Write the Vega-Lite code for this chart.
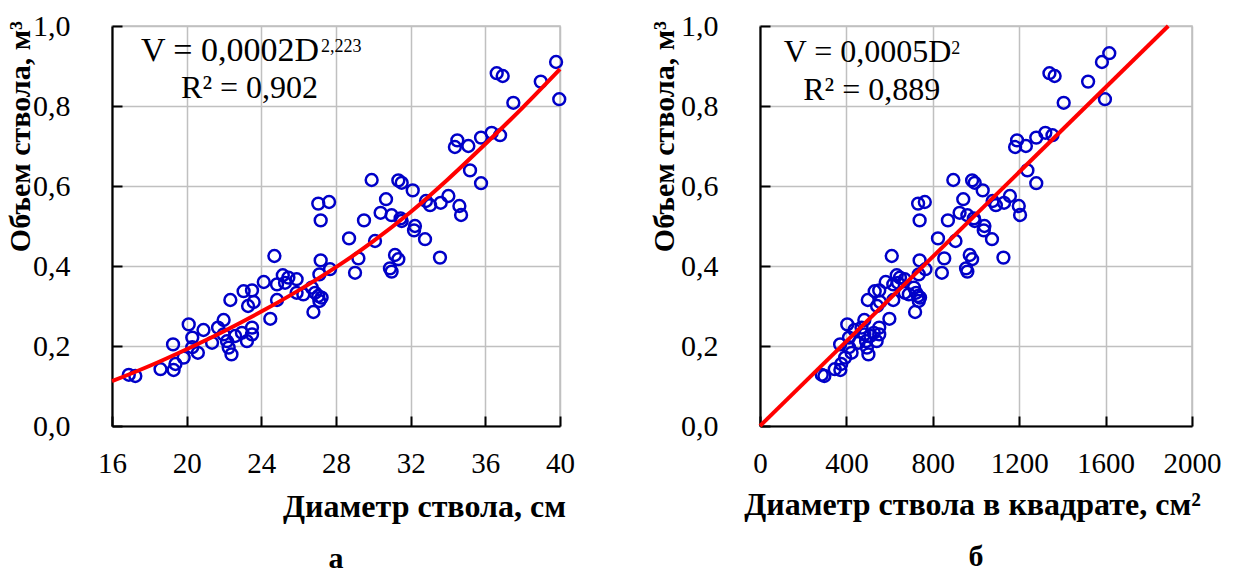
{
  "$schema": "https://vega.github.io/schema/vega-lite/v6.json",
  "background": "white",
  "padding": {"left": 4, "top": 10, "right": 10, "bottom": 0},
  "spacing": 200,
  "bounds": "flush",
  "datasets": {
    "trees": [
      {"D": 16.9, "D2": 286, "V": 0.128}, {"D": 17.25, "D2": 298, "V": 0.125},
      {"D": 18.6, "D2": 346, "V": 0.142}, {"D": 19.3, "D2": 372, "V": 0.14},
      {"D": 19.4, "D2": 376, "V": 0.155}, {"D": 19.27, "D2": 371, "V": 0.204},
      {"D": 19.84, "D2": 394, "V": 0.171}, {"D": 20.11, "D2": 404, "V": 0.254},
      {"D": 20.3, "D2": 412, "V": 0.221}, {"D": 20.3, "D2": 412, "V": 0.197},
      {"D": 20.6, "D2": 424, "V": 0.183}, {"D": 20.9, "D2": 437, "V": 0.24},
      {"D": 21.36, "D2": 456, "V": 0.208}, {"D": 21.68, "D2": 470, "V": 0.246},
      {"D": 21.98, "D2": 483, "V": 0.265}, {"D": 21.98, "D2": 483, "V": 0.229},
      {"D": 22.16, "D2": 491, "V": 0.212}, {"D": 22.25, "D2": 495, "V": 0.196},
      {"D": 22.4, "D2": 502, "V": 0.179}, {"D": 22.6, "D2": 511, "V": 0.225},
      {"D": 22.96, "D2": 527, "V": 0.233}, {"D": 23.23, "D2": 540, "V": 0.212},
      {"D": 23.5, "D2": 552, "V": 0.229}, {"D": 23.5, "D2": 552, "V": 0.246},
      {"D": 22.34, "D2": 499, "V": 0.315}, {"D": 23.05, "D2": 531, "V": 0.337},
      {"D": 23.5, "D2": 552, "V": 0.339}, {"D": 23.59, "D2": 556, "V": 0.31},
      {"D": 23.29, "D2": 542, "V": 0.3}, {"D": 24.13, "D2": 582, "V": 0.36},
      {"D": 24.48, "D2": 599, "V": 0.268}, {"D": 24.7, "D2": 610, "V": 0.425},
      {"D": 24.84, "D2": 617, "V": 0.354}, {"D": 24.84, "D2": 617, "V": 0.315},
      {"D": 25.15, "D2": 633, "V": 0.377}, {"D": 25.45, "D2": 648, "V": 0.371},
      {"D": 25.89, "D2": 670, "V": 0.367}, {"D": 25.27, "D2": 639, "V": 0.358},
      {"D": 25.89, "D2": 670, "V": 0.333}, {"D": 26.25, "D2": 689, "V": 0.329},
      {"D": 26.7, "D2": 713, "V": 0.346}, {"D": 26.88, "D2": 723, "V": 0.333},
      {"D": 27.05, "D2": 732, "V": 0.325}, {"D": 27.23, "D2": 741, "V": 0.321},
      {"D": 27.11, "D2": 735, "V": 0.3125}, {"D": 26.79, "D2": 718, "V": 0.285},
      {"D": 27.05, "D2": 732, "V": 0.556}, {"D": 27.63, "D2": 763, "V": 0.56},
      {"D": 27.18, "D2": 739, "V": 0.514}, {"D": 29.91, "D2": 895, "V": 0.615},
      {"D": 31.34, "D2": 982, "V": 0.614}, {"D": 31.52, "D2": 994, "V": 0.608},
      {"D": 32.11, "D2": 1031, "V": 0.589}, {"D": 30.68, "D2": 941, "V": 0.567},
      {"D": 30.39, "D2": 924, "V": 0.533}, {"D": 30.98, "D2": 960, "V": 0.527},
      {"D": 31.46, "D2": 990, "V": 0.519}, {"D": 31.52, "D2": 994, "V": 0.5125},
      {"D": 32.23, "D2": 1039, "V": 0.5}, {"D": 32.18, "D2": 1036, "V": 0.489},
      {"D": 32.77, "D2": 1074, "V": 0.467}, {"D": 29.5, "D2": 870, "V": 0.514},
      {"D": 28.7, "D2": 824, "V": 0.469}, {"D": 30.09, "D2": 905, "V": 0.4625},
      {"D": 29.2, "D2": 853, "V": 0.419}, {"D": 29.02, "D2": 842, "V": 0.383},
      {"D": 31.16, "D2": 971, "V": 0.4275}, {"D": 31.34, "D2": 982, "V": 0.417},
      {"D": 30.89, "D2": 954, "V": 0.394}, {"D": 30.98, "D2": 960, "V": 0.386},
      {"D": 27.18, "D2": 739, "V": 0.414}, {"D": 27.68, "D2": 766, "V": 0.392},
      {"D": 27.11, "D2": 735, "V": 0.379}, {"D": 39.79, "D2": 1583, "V": 0.91},
      {"D": 39.96, "D2": 1597, "V": 0.817}, {"D": 36.61, "D2": 1340, "V": 0.882},
      {"D": 36.93, "D2": 1364, "V": 0.875}, {"D": 38.97, "D2": 1519, "V": 0.861},
      {"D": 37.5, "D2": 1406, "V": 0.808}, {"D": 34.5, "D2": 1190, "V": 0.714},
      {"D": 34.37, "D2": 1181, "V": 0.6975}, {"D": 35.09, "D2": 1231, "V": 0.7},
      {"D": 35.77, "D2": 1279, "V": 0.721}, {"D": 36.34, "D2": 1321, "V": 0.733},
      {"D": 36.79, "D2": 1354, "V": 0.727}, {"D": 35.18, "D2": 1238, "V": 0.639},
      {"D": 35.77, "D2": 1279, "V": 0.607}, {"D": 32.82, "D2": 1077, "V": 0.5625},
      {"D": 33.04, "D2": 1092, "V": 0.552}, {"D": 33.61, "D2": 1130, "V": 0.558},
      {"D": 34.02, "D2": 1157, "V": 0.575}, {"D": 34.61, "D2": 1198, "V": 0.55},
      {"D": 34.7, "D2": 1204, "V": 0.5275}, {"D": 33.57, "D2": 1127, "V": 0.421},
      {"D": 40.21, "D2": 1617, "V": 0.932}
    ],
    "powerFit": [
      {"D": 16, "V": 0.112}, {"D": 18, "V": 0.15}, {"D": 20, "V": 0.192},
      {"D": 22, "V": 0.237}, {"D": 24, "V": 0.286}, {"D": 26, "V": 0.339},
      {"D": 28, "V": 0.397}, {"D": 30, "V": 0.462}, {"D": 32, "V": 0.535},
      {"D": 34, "V": 0.617}, {"D": 36, "V": 0.705}, {"D": 38, "V": 0.796},
      {"D": 40, "V": 0.892}
    ],
    "squareFit": [
      {"D2": 0, "V": 0}, {"D2": 1890, "V": 1.0}
    ]
  },
  "hconcat": [
    {
      "width": 448,
      "height": 400,
      "title": {"text": "а", "orient": "bottom", "anchor": "middle", "font": "Liberation Serif", "fontSize": 30, "fontWeight": "bold", "color": "black", "offset": 22},
      "layer": [
        {
          "data": {"name": "trees"},
          "transform": [{"filter": "datum.D <= 40"}],
          "mark": {"type": "point", "shape": "circle", "filled": false, "size": 140, "strokeWidth": 2.5, "color": "#0000c8", "opacity": 1},
          "encoding": {
            "x": {"field": "D", "type": "quantitative",
                  "scale": {"domain": [16, 40], "nice": false, "zero": false},
                  "axis": {"title": "Диаметр ствола, см", "values": [16, 20, 24, 28, 32, 36, 40], "labelPadding": 33,
                           "titleX": 312, "titleY": 90, "titleAlign": "center", "titleBaseline": "alphabetic"}},
            "y": {"field": "V", "type": "quantitative",
                  "scale": {"domain": [0, 1], "nice": false},
                  "axis": {"title": "Объем ствола, м³", "values": [0, 0.2, 0.4, 0.6, 0.8, 1], "labelPadding": 52,
                           "labelExpr": "replace(format(datum.value, '.1f'), '.', ',')", "labelFontSize": 30,
                           "titleFontSize": 30,
                           "titleX": -92, "titleY": 110, "titleAngle": 270, "titleAlign": "center", "titleBaseline": "middle"}}
          }
        },
        {
          "data": {"name": "powerFit"},
          "mark": {"type": "line", "color": "#ff0000", "strokeWidth": 4, "interpolate": "monotone"},
          "encoding": {
            "x": {"field": "D", "type": "quantitative"},
            "y": {"field": "V", "type": "quantitative"}
          }
        },
        {
          "data": {"values": [{}]},
          "mark": {"type": "text", "text": "V = 0,0002D", "align": "left", "baseline": "alphabetic", "font": "Liberation Serif", "fontSize": 34, "color": "black"},
          "encoding": {"x": {"datum": 17.55, "type": "quantitative"}, "y": {"datum": 0.9125, "type": "quantitative"}}
        },
        {
          "data": {"values": [{}]},
          "mark": {"type": "text", "text": "2,223", "align": "left", "baseline": "alphabetic", "font": "Liberation Serif", "fontSize": 18, "color": "black"},
          "encoding": {"x": {"datum": 27.2, "type": "quantitative"}, "y": {"datum": 0.935, "type": "quantitative"}}
        },
        {
          "data": {"values": [{}]},
          "mark": {"type": "text", "text": "R² = 0,902", "align": "left", "baseline": "alphabetic", "font": "Liberation Serif", "fontSize": 32, "color": "black"},
          "encoding": {"x": {"datum": 19.7, "type": "quantitative"}, "y": {"datum": 0.821, "type": "quantitative"}}
        }
      ]
    },
    {
      "width": 432,
      "height": 400,
      "title": {"text": "б", "orient": "bottom", "anchor": "middle", "font": "Liberation Serif", "fontSize": 30, "fontWeight": "bold", "color": "black", "offset": 22},
      "layer": [
        {
          "data": {"name": "trees"},
          "mark": {"type": "point", "shape": "circle", "filled": false, "size": 140, "strokeWidth": 2.5, "color": "#0000c8", "opacity": 1},
          "encoding": {
            "x": {"field": "D2", "type": "quantitative",
                  "scale": {"domain": [0, 2000], "nice": false},
                  "axis": {"title": "Диаметр ствола в квадрате, см²", "values": [0, 400, 800, 1200, 1600, 2000], "format": "d", "labelPadding": 33,
                           "titleX": 212, "titleY": 88, "titleAlign": "center", "titleBaseline": "alphabetic"}},
            "y": {"field": "V", "type": "quantitative",
                  "scale": {"domain": [0, 1], "nice": false},
                  "axis": {"title": "Объем ствола, м³", "values": [0, 0.2, 0.4, 0.6, 0.8, 1], "labelPadding": 52,
                           "labelExpr": "replace(format(datum.value, '.1f'), '.', ',')", "labelFontSize": 30,
                           "titleFontSize": 30,
                           "titleX": -96, "titleY": 110, "titleAngle": 270, "titleAlign": "center", "titleBaseline": "middle"}}
          }
        },
        {
          "data": {"name": "squareFit"},
          "mark": {"type": "line", "color": "#ff0000", "strokeWidth": 4},
          "encoding": {
            "x": {"field": "D2", "type": "quantitative"},
            "y": {"field": "V", "type": "quantitative"}
          }
        },
        {
          "data": {"values": [{}]},
          "mark": {"type": "text", "text": "V = 0,0005D", "align": "left", "baseline": "alphabetic", "font": "Liberation Serif", "fontSize": 32, "color": "black"},
          "encoding": {"x": {"datum": 110, "type": "quantitative"}, "y": {"datum": 0.909, "type": "quantitative"}}
        },
        {
          "data": {"values": [{}]},
          "mark": {"type": "text", "text": "2", "align": "left", "baseline": "alphabetic", "font": "Liberation Serif", "fontSize": 18, "color": "black"},
          "encoding": {"x": {"datum": 885, "type": "quantitative"}, "y": {"datum": 0.93, "type": "quantitative"}}
        },
        {
          "data": {"values": [{}]},
          "mark": {"type": "text", "text": "R² = 0,889", "align": "left", "baseline": "alphabetic", "font": "Liberation Serif", "fontSize": 32, "color": "black"},
          "encoding": {"x": {"datum": 200, "type": "quantitative"}, "y": {"datum": 0.816, "type": "quantitative"}}
        }
      ]
    }
  ],
  "config": {
    "font": "Liberation Serif",
    "view": {"stroke": "#bfbfbf", "strokeWidth": 1.5},
    "axis": {
      "domainColor": "black", "domainWidth": 2.2,
      "tickColor": "black", "tickWidth": 2, "tickSize": -10,
      "grid": true, "gridColor": "#c0c0c0", "gridWidth": 1.5,
      "labelFont": "Liberation Serif", "labelFontSize": 29, "labelColor": "black",
      "labelOverlap": false, "labelFlush": false,
      "titleFont": "Liberation Serif", "titleFontSize": 32, "titleFontWeight": "bold", "titleColor": "black"
    }
  }
}
